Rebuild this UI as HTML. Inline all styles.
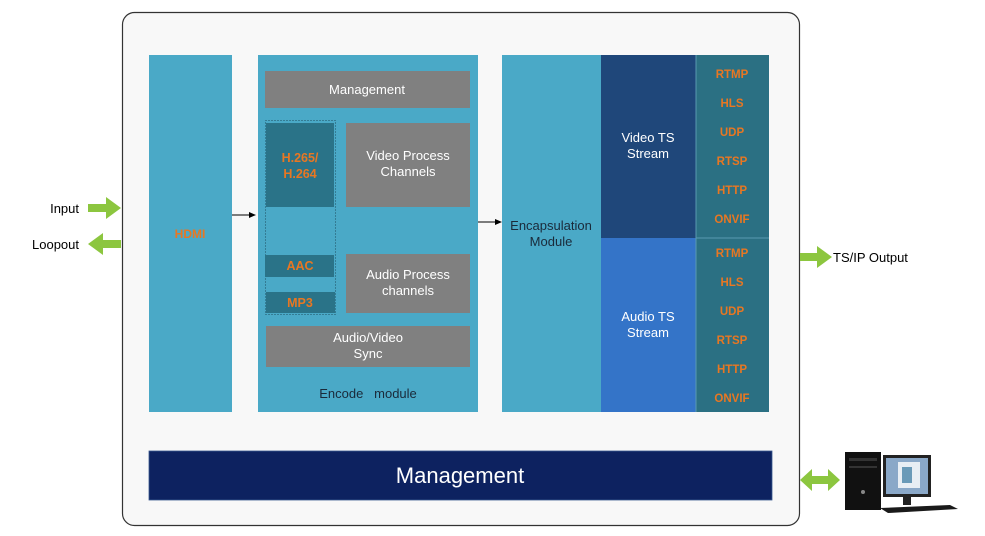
<!DOCTYPE html>
<html><head><meta charset="utf-8"><style>
body{margin:0;background:#fff;}
svg{display:block;font-family:"Liberation Sans",Arial,sans-serif;}
</style></head><body>
<svg width="985" height="536" viewBox="0 0 985 536" xmlns="http://www.w3.org/2000/svg">
<rect x="122.5" y="12.5" width="677" height="513" rx="12" fill="#f8f8f8" stroke="#333" stroke-width="1.2"/>
<rect x="149" y="55" width="83" height="357" fill="#4aa9c7"/>
<text x="190" y="238" fill="#e87722" font-size="12" font-weight="bold" text-anchor="middle">HDMI</text>
<rect x="258" y="55" width="220" height="357" fill="#4aa9c7"/>
<rect x="265" y="71" width="205" height="37" fill="#808080"/>
<text x="367" y="94" fill="#fff" font-size="13" text-anchor="middle">Management</text>
<rect x="265.5" y="120.5" width="70" height="194" fill="none" stroke="#1f4f60" stroke-dasharray="1,2"/>
<rect x="266" y="123" width="68" height="84" fill="#2a7388"/>
<text x="300" y="162" fill="#e87722" font-size="12.5" font-weight="bold" text-anchor="middle">H.265/</text>
<text x="300" y="178" fill="#e87722" font-size="12.5" font-weight="bold" text-anchor="middle">H.264</text>
<rect x="346" y="123" width="124" height="84" fill="#808080"/>
<text x="408" y="160" fill="#fff" font-size="13" text-anchor="middle">Video Process</text>
<text x="408" y="176" fill="#fff" font-size="13" text-anchor="middle">Channels</text>
<rect x="265" y="255" width="69" height="22" fill="#2a7388"/>
<text x="300" y="270" fill="#e87722" font-size="12.5" font-weight="bold" text-anchor="middle">AAC</text>
<rect x="266" y="292" width="69" height="21" fill="#2a7388"/>
<text x="300" y="307" fill="#e87722" font-size="12.5" font-weight="bold" text-anchor="middle">MP3</text>
<rect x="346" y="254" width="124" height="59" fill="#808080"/>
<text x="408" y="279" fill="#fff" font-size="13" text-anchor="middle">Audio Process</text>
<text x="408" y="295" fill="#fff" font-size="13" text-anchor="middle">channels</text>
<rect x="266" y="326" width="204" height="41" fill="#808080"/>
<text x="368" y="342" fill="#fff" font-size="13" text-anchor="middle">Audio/Video</text>
<text x="368" y="358" fill="#fff" font-size="13" text-anchor="middle">Sync</text>
<text x="368" y="398" fill="#1a2a3a" font-size="13" text-anchor="middle">Encode&#160;&#160;&#160;module</text>
<line x1="232" y1="215" x2="250" y2="215" stroke="#000" stroke-width="1"/>
<polygon points="256,215 249,212 249,218" fill="#000"/>
<line x1="478" y1="222" x2="496" y2="222" stroke="#000" stroke-width="1"/>
<polygon points="502,222 495,219 495,225" fill="#000"/>
<rect x="502" y="55" width="99" height="357" fill="#4aa9c7"/>
<text x="551" y="230" fill="#1a2a3a" font-size="13" text-anchor="middle">Encapsulation</text>
<text x="551" y="246" fill="#1a2a3a" font-size="13" text-anchor="middle">Module</text>
<rect x="601" y="55" width="95" height="183" fill="#1f477a"/>
<text x="648" y="142" fill="#fff" font-size="13" text-anchor="middle">Video TS</text>
<text x="648" y="158" fill="#fff" font-size="13" text-anchor="middle">Stream</text>
<rect x="601" y="238" width="95" height="174" fill="#3474c8"/>
<text x="648" y="321" fill="#fff" font-size="13" text-anchor="middle">Audio TS</text>
<text x="648" y="337" fill="#fff" font-size="13" text-anchor="middle">Stream</text>
<rect x="696" y="55" width="73" height="357" fill="#2b7083"/>
<line x1="696" y1="55" x2="696" y2="412" stroke="#5a9ab0" stroke-width="1"/>
<line x1="696" y1="238" x2="769" y2="238" stroke="#5a9ab0" stroke-width="1"/>
<g fill="#e87722" font-size="11.5" font-weight="bold" text-anchor="middle">
<text x="732" y="78">RTMP</text><text x="732" y="107">HLS</text><text x="732" y="136">UDP</text>
<text x="732" y="165">RTSP</text><text x="732" y="194">HTTP</text><text x="732" y="223">ONVIF</text>
<text x="732" y="257">RTMP</text><text x="732" y="286">HLS</text><text x="732" y="315">UDP</text>
<text x="732" y="344">RTSP</text><text x="732" y="373">HTTP</text><text x="732" y="402">ONVIF</text>
</g>
<rect x="149" y="451" width="623" height="49" fill="#0d2260" stroke="#3a5a90" stroke-width="0.8"/>
<text x="460" y="483" fill="#fff" font-size="22" text-anchor="middle">Management</text>
<g fill="#8cc63f">
<polygon points="88,204 106,204 106,197 121,208 106,219 106,212 88,212"/>
<polygon points="121,240 103,240 103,233 88,244 103,255 103,248 121,248"/>
<polygon points="800,253 817,253 817,246 832,257 817,268 817,261 800,261"/>
<polygon points="800,480 812,469 812,476 828,476 828,469 840,480 828,491 828,484 812,484 812,491"/>
</g>
<text x="79" y="213" fill="#000" font-size="13" text-anchor="end">Input</text>
<text x="79" y="249" fill="#000" font-size="13" text-anchor="end">Loopout</text>
<text x="833" y="262" fill="#000" font-size="13">TS/IP Output</text>
<rect x="845" y="452" width="36" height="58" fill="#111"/>
<rect x="849" y="458" width="28" height="3" fill="#333"/>
<rect x="849" y="466" width="28" height="2" fill="#333"/>
<circle cx="863" cy="492" r="2" fill="#888"/>
<rect x="883" y="455" width="48" height="42" fill="#222"/>
<rect x="886" y="458" width="42" height="36" fill="#8aa8c8"/>
<rect x="898" y="462" width="22" height="26" fill="#e8eef4"/>
<rect x="902" y="467" width="10" height="16" fill="#6a9ab8"/>
<rect x="903" y="497" width="8" height="8" fill="#222"/>
<polygon points="880,508 950,505 958,509 888,513" fill="#1a1a1a"/>
</svg>
</body></html>
